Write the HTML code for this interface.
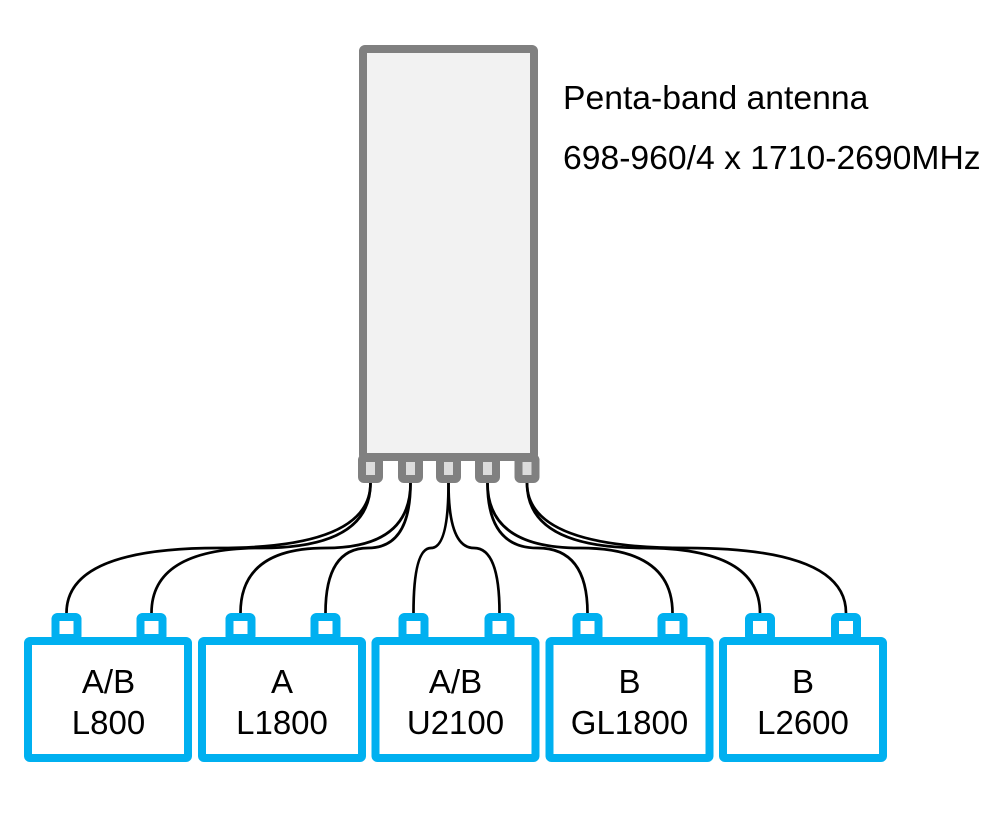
<!DOCTYPE html>
<html>
<head>
<meta charset="utf-8">
<style>
  html, body { margin: 0; padding: 0; background: #ffffff; }
  svg { display: block; }
  text { font-family: "Liberation Sans", Arial, sans-serif; fill: #000; }
</style>
</head>
<body>
<svg width="991" height="824" viewBox="0 0 991 824" xmlns="http://www.w3.org/2000/svg">
  <!-- Antenna body -->
  <rect x="363" y="49" width="171" height="408" rx="2" fill="#f2f2f2" stroke="#808080" stroke-width="8"/>
  <!-- Antenna ports -->
  <g fill="#dcdcdc" stroke="#808080" stroke-width="8">
    <rect x="362" y="458" width="17" height="21" rx="2"/>
    <rect x="402" y="458" width="17" height="21" rx="2"/>
    <rect x="440" y="458" width="17" height="21" rx="2"/>
    <rect x="479" y="458" width="17" height="21" rx="2"/>
    <rect x="518.5" y="458" width="17" height="21" rx="2"/>
  </g>

  <!-- Antenna label -->
  <text x="563" y="109" font-size="33.7">Penta-band antenna</text>
  <text x="563" y="169" font-size="33.7">698-960/4 x 1710-2690MHz</text>

  <!-- Connectors -->
  <g fill="none" stroke="#000" stroke-width="2.7">
    <path d="M370.5 483 Q370.5 548 218.5 548 Q66.5 548 66.5 613"/>
    <path d="M370.5 483 Q370.5 548 261 548 Q151.5 548 151.5 613"/>
    <path d="M410.5 483 Q410.5 548 325.5 548 Q240.5 548 240.5 613"/>
    <path d="M410.5 483 Q410.5 548 368 548 Q325.5 548 325.5 613"/>
    <path d="M448.5 483 Q448.5 548 431 548 Q413.5 548 413.5 613"/>
    <path d="M448.5 483 Q448.5 548 474 548 Q499.5 548 499.5 613"/>
    <path d="M487.5 483 Q487.5 548 537.5 548 Q587.5 548 587.5 613"/>
    <path d="M487.5 483 Q487.5 548 580 548 Q672.5 548 672.5 613"/>
    <path d="M527 483 Q527 548 643.5 548 Q760 548 760 613"/>
    <path d="M527 483 Q527 548 686.5 548 Q846 548 846 613"/>
  </g>

  <!-- Battery-like boxes -->
  <g fill="#ffffff" stroke="#00b0f0" stroke-width="8">
    <!-- box 1 -->
    <rect x="28" y="641" width="160" height="117" rx="2"/>
    <rect x="55.5" y="617" width="22" height="21" rx="2"/>
    <rect x="140.5" y="617" width="22" height="21" rx="2"/>
    <!-- box 2 -->
    <rect x="202" y="641" width="160" height="117" rx="2"/>
    <rect x="229.5" y="617" width="22" height="21" rx="2"/>
    <rect x="314.5" y="617" width="22" height="21" rx="2"/>
    <!-- box 3 -->
    <rect x="375.5" y="641" width="160" height="117" rx="2"/>
    <rect x="402.5" y="617" width="22" height="21" rx="2"/>
    <rect x="488.5" y="617" width="22" height="21" rx="2"/>
    <!-- box 4 -->
    <rect x="549.5" y="641" width="160" height="117" rx="2"/>
    <rect x="576.5" y="617" width="22" height="21" rx="2"/>
    <rect x="661.5" y="617" width="22" height="21" rx="2"/>
    <!-- box 5 -->
    <rect x="723" y="641" width="160" height="117" rx="2"/>
    <rect x="749" y="617" width="22" height="21" rx="2"/>
    <rect x="835" y="617" width="22" height="21" rx="2"/>
  </g>

  <!-- Box labels -->
  <g font-size="33" text-anchor="middle">
    <text x="108.5" y="693">A/B</text>
    <text x="108.5" y="734">L800</text>
    <text x="282" y="693">A</text>
    <text x="282" y="734">L1800</text>
    <text x="455.5" y="693">A/B</text>
    <text x="455.5" y="734">U2100</text>
    <text x="629.5" y="693">B</text>
    <text x="629.5" y="734">GL1800</text>
    <text x="803" y="693">B</text>
    <text x="803" y="734">L2600</text>
  </g>
</svg>
</body>
</html>
